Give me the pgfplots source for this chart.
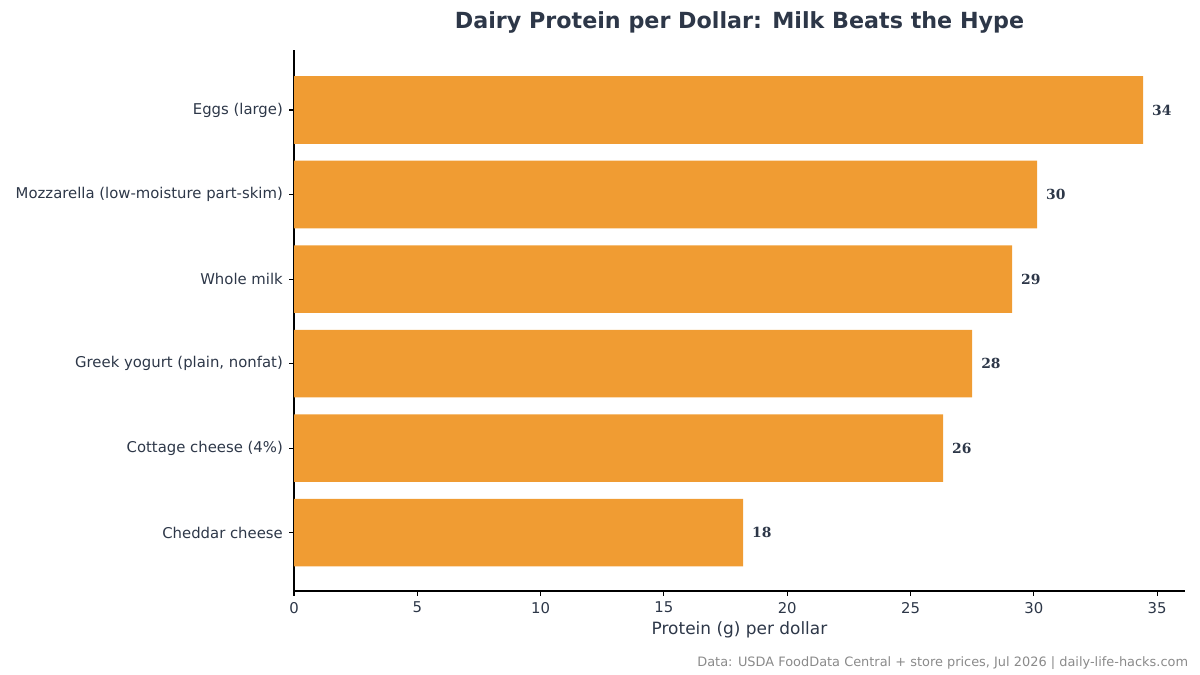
\documentclass[border=0pt]{standalone}
\usepackage{fontspec}
\setmainfont{DejaVu Sans}
\newfontfamily\valfont{DejaVu Serif}
\usepackage{pgfplots}
\pgfplotsset{compat=1.18}
\definecolor{barorange}{HTML}{F09C33}
\definecolor{inkdark}{HTML}{2D3748}
\definecolor{footgray}{HTML}{8A8A8A}
\begin{document}
\begin{tikzpicture}[x=1pt,y=1pt]
% canvas 1200x675 px at 0.72pt per px
\path[use as bounding box] (0,0) rectangle (864,486);
\begin{axis}[
    at={(211.68pt,60.48pt)}, anchor=south west,
    scale only axis,
    width=641.52pt, height=389.52pt,
    xbar, bar shift=0pt, bar width=0.8,
    xmin=0, xmax=36.13,
    ymin=-0.69, ymax=5.71,
    axis x line*=bottom, axis y line*=left,
    axis line style={black, line width=0.8pt},
    xtick={0,5,...,35},
    ytick={0,1,2,3,4,5},
    yticklabels={Cheddar cheese, Cottage cheese (4\%), {Greek yogurt (plain, nonfat)}, Whole milk, Mozzarella (low-moisture part-skim), Eggs (large)},
    tick align=outside,
    major tick length=3.5pt,
    tick style={black, line width=0.8pt},
    /pgf/number format/assume math mode=true,
    ticklabel style={font=\fontsize{10.7}{12.8}\selectfont, text=inkdark},
    xticklabel style={yshift=-1pt},
    yticklabel style={xshift=-1pt},
    point meta=explicit symbolic,
    nodes near coords,
    nodes near coords style={anchor=west, xshift=3pt, font=\valfont\bfseries\fontsize{10}{12}\selectfont, text=inkdark},
    clip=false,
]
\addplot[fill=barorange, draw=none] table[x=x, y=y, meta=lab] {
x      y  lab
18.21  0  18
26.32  1  26
27.50  2  28
29.12  3  29
30.13  4  30
34.43  5  34
};
\end{axis}
\node[font=\bfseries\fontsize{16}{19}\selectfont, text=inkdark] at (532.44,469.5) {Dairy Protein per Dollar: Milk Beats the Hype};
\node[font=\fontsize{12.2}{14.6}\selectfont, text=inkdark] at (532.44,32.4) {Protein (g) per dollar};
\node[anchor=east, font=\fontsize{9.3}{11}\selectfont, text=footgray] at (858.96,8.64) {Data: USDA FoodData Central + store prices, Jul 2026 | daily-life-hacks.com};
\end{tikzpicture}
\end{document}
